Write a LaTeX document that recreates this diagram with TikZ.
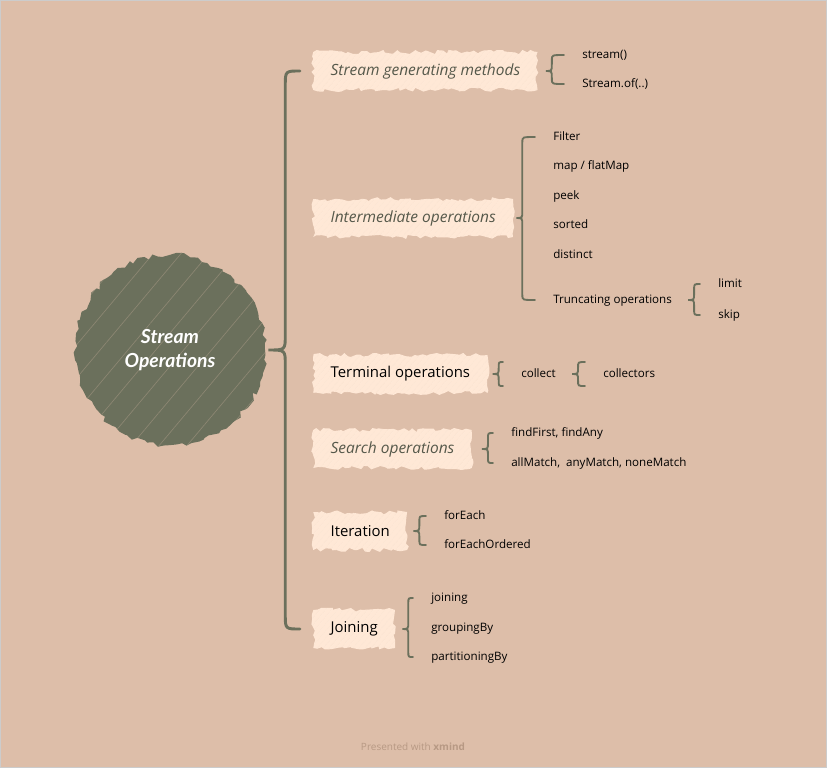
\documentclass[tikz,border=0pt]{standalone}
\usepackage{fontspec}
\setmainfont{Open Sans}
\newfontfamily\centrefont{Lato}
\usepackage{tikz}
\usetikzlibrary{positioning,calc,decorations.pathmorphing,patterns.meta}

\definecolor{bg}{HTML}{DDBEA9}
\definecolor{olive}{HTML}{6B705C}
\definecolor{cream}{HTML}{FFE8D6}
\definecolor{ink}{HTML}{55584A}
\definecolor{footc}{HTML}{B79984}

\tikzset{
  topic/.style={anchor=west, fill=cream, decorate,
    decoration={random steps, segment length=3pt, amplitude=1.6pt},
    postaction={pattern={Lines[angle=50,distance=4pt,line width=0.3pt]}, pattern color=cream!80!bg},
    minimum height=28.5pt, inner xsep=13pt, text=black,
    font=\fontsize{11.2}{13}\selectfont},
  topicit/.style={topic, text=ink, font=\fontsize{11.6}{13}\selectfont\itshape},
  leaf/.style={anchor=west, inner sep=0pt, text height=6pt, text depth=1.5pt,
    font=\fontsize{8.7}{10}\selectfont},
  brc/.style={draw=olive, line width=1.4pt, line cap=round},
}

% graffa: parent, first child, last child, gap (px), spread (px)
\newcommand\bracegroup[5]{%
  \draw[brc] let \p1=(#1.east), \p2=(#2.west), \p3=(#3.west),
    \n1={\x1+#4*0.75pt}, \n2={\n1+4.5pt}, \n3={\x2-13.5pt},
    \n4={\y2+#5*0.75pt}, \n5={\y3-#5*0.75pt} in
    (\n3,\n4) .. controls (\n2,\n4) .. (\n2,\n4-4pt) -- (\n2,\y1+5pt)
    .. controls (\n2,\y1) .. (\n1,\y1) .. controls (\n2,\y1) .. (\n2,\y1-5pt)
    -- (\n2,\n5+4pt) .. controls (\n2,\n5) .. (\n3,\n5);}

\begin{document}
\begin{tikzpicture}[x=0.75pt, y=-0.75pt]
  \fill[bg] (0,0) rectangle (827,768);
  \useasboundingbox (0,0) rectangle (827,768);
  \draw[gray!40, line width=1.1pt] (0.7,0.7) rectangle (826.3,767.3);

  % centro
  \node[circle, minimum size=142.5pt, fill=olive, decorate,
    decoration={random steps, segment length=4pt, amplitude=2pt},
    postaction={pattern={Lines[angle=50,distance=16pt,line width=0.5pt]}, pattern color=olive!70!bg},
    text=white, align=center, font=\centrefont\fontsize{14.5}{18}\selectfont\bfseries\itshape] (so) at (170,350) {Stream\\Operations};

  % rami principali
  \node[topicit] (gen) at (313,71) {Stream generating methods};
  \node[topicit] (inter) at (313,218) {Intermediate operations};
  \node[topic] (term) at (313,374) {Terminal operations};
  \node[topicit] (search) at (313,449) {Search operations};
  \node[topic] (iter) at (313,531) {Iteration};
  \node[topic] (join) at (313,629) {Joining};

  \draw[brc, line width=2.2pt] let \p1=(so.east), \p2=(gen.west), \p3=(join.west) in
    (\x2-9.75pt,\y2) .. controls (\x1+15pt,\y2) .. (\x1+15pt,\y2-11pt) -- (\x1+15pt,\y1+11pt)
    .. controls (\x1+15pt,\y1) .. (\x1+2.25pt,\y1) .. controls (\x1+15pt,\y1) .. (\x1+15pt,\y1-11pt)
    -- (\x1+15pt,\y3+11pt) .. controls (\x1+15pt,\y3) .. (\x2-9.75pt,\y3);

  % foglie
  \node[leaf] (s1) at (582,55) {stream()};
  \node[leaf] (s2) at (582,84) {Stream.of(..)};

  \node[leaf] (i1) at (553,137) {Filter};
  \node[leaf] (i2) at (553,166) {map / flatMap};
  \node[leaf] (i3) at (553,196) {peek};
  \node[leaf] (i4) at (553,225) {sorted};
  \node[leaf] (i5) at (553,255) {distinct};
  \node[leaf] (i6) at (553,300) {Truncating operations};
  \node[leaf] (t1) at (718,284) {limit};
  \node[leaf] (t2) at (718,315) {skip};

  \node[leaf] (c1) at (521,374) {collect};
  \node[leaf] (c2) at (603,374) {collectors};

  \node[leaf] (f1) at (511,433) {findFirst, findAny};
  \node[leaf] (f2) at (511,463) {allMatch,\ \ anyMatch, noneMatch};

  \node[leaf] (e1) at (444,516) {forEach};
  \node[leaf] (e2) at (444,545) {forEachOrdered};

  \node[leaf] (j1) at (431,598) {joining};
  \node[leaf] (j2) at (431,628) {groupingBy};
  \node[leaf] (j3) at (431,657) {partitioningBy};

  % graffe
  \bracegroup{gen}{s1}{s2}{8}{0}
  \bracegroup{inter}{i1}{i6}{3}{0}
  \bracegroup{i6}{t1}{t2}{16}{0}
  \bracegroup{term}{c1}{c1}{5}{12}
  \bracegroup{c1}{c2}{c2}{16}{12}
  \bracegroup{search}{f1}{f2}{10}{0}
  \bracegroup{iter}{e1}{e2}{6}{0}
  \bracegroup{join}{j1}{j3}{7}{0}

  \node[font=\fontsize{7.5}{9}\selectfont, text=footc] (pw) at (413,747) {Presented with \textbf{xmind}};
\end{tikzpicture}
\end{document}
